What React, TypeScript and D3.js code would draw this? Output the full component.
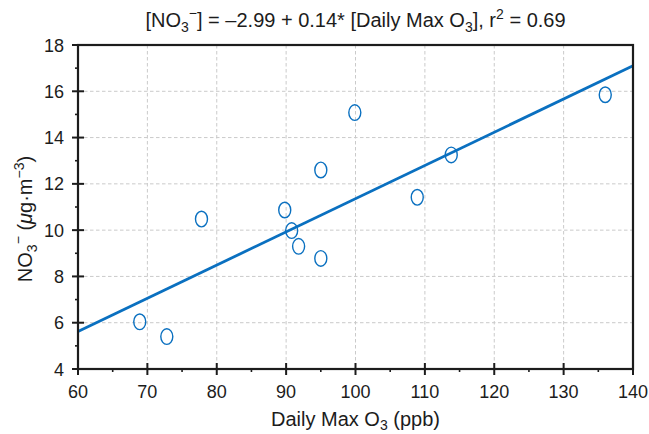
import * as d3 from 'd3'

const ozone = [68.9, 72.8, 77.8, 89.8, 90.8, 91.8, 95.0, 95.0, 99.9, 108.9, 113.8, 136.0]
const nitrate = [6.04, 5.4, 10.48, 10.87, 9.98, 9.3, 12.6, 8.78, 15.08, 11.42, 13.25, 15.85]
const fitIntercept = -2.99
const fitSlope = 0.1435
const xTicks = [60, 70, 80, 90, 100, 110, 120, 130, 140]
const yTicks = [4, 6, 8, 10, 12, 14, 16, 18]
const xMinor = [65, 75, 85, 95, 105, 115, 125, 135]
const yMinor = [5, 7, 9, 11, 13, 15, 17]

const W = 649
const H = 434
const M = { left: 78, right: 16, top: 45, bottom: 65 }
const BLUE = '#0a70c0'
const INK = '#1c1c1c'
const FONT = '"Liberation Sans", Arial, sans-serif'

export default function App() {
  const x = d3.scaleLinear().domain([60, 140]).range([M.left, W - M.right])
  const y = d3.scaleLinear().domain([4, 18]).range([H - M.bottom, M.top])
  const x0 = M.left
  const x1 = W - M.right
  const y0 = H - M.bottom
  const y1 = M.top

  const fitLine = d3.line<number>()
    .x((d) => x(d))
    .y((d) => y(fitIntercept + fitSlope * d))

  return (
    <svg width={W} height={H} style={{ position: 'absolute', left: 0, top: 0, background: '#fff' }} fontFamily={FONT}>
      <rect width={W} height={H} fill="#fff" />
      {/* grid */}
      {xTicks.slice(1, -1).map((t) => (
        <line key={'gx' + t} x1={x(t)} x2={x(t)} y1={y1} y2={y0} stroke="#cacaca" strokeDasharray="3.5,2.5" />
      ))}
      {yTicks.slice(1, -1).map((t) => (
        <line key={'gy' + t} x1={x0} x2={x1} y1={y(t)} y2={y(t)} stroke="#cacaca" strokeDasharray="3.5,2.5" />
      ))}

      {/* fit */}
      <path d={fitLine([60, 140]) || ''} fill="none" stroke={BLUE} strokeWidth={2.8} />

      {/* points */}
      {ozone.map((o, i) => (
        <ellipse key={i} cx={x(o)} cy={y(nitrate[i])} rx={6} ry={7.8} fill="none" stroke={BLUE} strokeWidth={1.4} />
      ))}

      {/* frame */}
      <rect x={x0} y={y1} width={x1 - x0} height={y0 - y1} fill="none" stroke={INK} strokeWidth={2.2} />

      {/* ticks */}
      {xTicks.map((t) => (
        <line key={'tx' + t} x1={x(t)} x2={x(t)} y1={y0 - 6} y2={y0 + 6} stroke={INK} strokeWidth={2} />
      ))}
      {xMinor.map((t) => (
        <line key={'mx' + t} x1={x(t)} x2={x(t)} y1={y0} y2={y0 + 3} stroke={INK} strokeWidth={1.6} />
      ))}
      {yTicks.map((t) => (
        <line key={'ty' + t} x1={x0 - 6} x2={x0 + 6} y1={y(t)} y2={y(t)} stroke={INK} strokeWidth={2} />
      ))}
      {yMinor.map((t) => (
        <line key={'my' + t} x1={x0 - 3} x2={x0} y1={y(t)} y2={y(t)} stroke={INK} strokeWidth={1.6} />
      ))}

      {/* tick labels */}
      {xTicks.map((t) => (
        <text key={'lx' + t} x={x(t)} y={398} textAnchor="middle" fontSize={18} fill={INK}>{t}</text>
      ))}
      {yTicks.map((t) => (
        <text key={'ly' + t} x={64} y={y(t) + 6.5} textAnchor="end" fontSize={18} fill={INK}>{t}</text>
      ))}

      {/* x label */}
      <text x={(x0 + x1) / 2} y={426} textAnchor="middle" fontSize={20} fill={INK}>
        Daily Max O<tspan fontSize={14} dy={4}>3</tspan><tspan dy={-4}> (ppb)</tspan>
      </text>

      {/* y label */}
      <text transform="translate(32,219) rotate(-90)" textAnchor="middle" fontSize={20} fill={INK}>
        NO<tspan fontSize={14} dy={5}>3</tspan>
        <tspan fontSize={14} dy={-14}>−</tspan>
        <tspan dy={9}>  (</tspan><tspan fontStyle="italic">μ</tspan>g·m<tspan fontSize={14} dy={-8}>−3</tspan>
        <tspan dy={8}>)</tspan>
      </text>

      {/* title */}
      <text x={(x0 + x1) / 2} y={27} textAnchor="middle" fontSize={20} fill={INK}>
        [NO<tspan fontSize={14} dy={5}>3</tspan>
        <tspan fontSize={14} dy={-14}>−</tspan>
        <tspan dy={9}>] = –2.99 + 0.14* [Daily Max O</tspan><tspan fontSize={14} dy={5}>3</tspan>
        <tspan dy={-5}>], r</tspan><tspan fontSize={14} dy={-8}>2</tspan>
        <tspan dy={8}> = 0.69</tspan>
      </text>
    </svg>
  )
}
